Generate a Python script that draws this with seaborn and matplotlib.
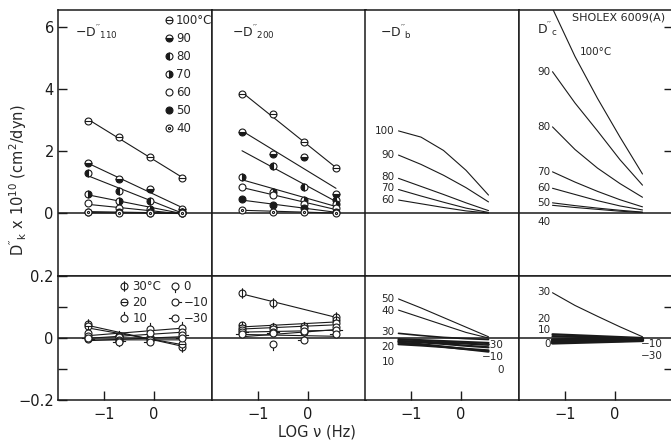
import numpy as np
import pandas as pd
import matplotlib
matplotlib.use("Agg")
import matplotlib.pyplot as plt
import seaborn as sns
from matplotlib.path import Path
from matplotlib.lines import Line2D

sns.set_theme(style="white")
plt.rcParams["font.family"] = ["DejaVu Sans"]
plt.rcParams["mathtext.default"] = "regular"

# ---------------- data ----------------
log_freq = [-1.32, -0.70, -0.08, 0.56]          # measured frequencies (log Hz)
curve_x = [-1.25, -0.80, -0.35, 0.10, 0.55]     # abscissae

temps_hi = [100, 90, 80, 70, 60, 50, 40]
temps_lo = [30, 20, 10, 0, -10, -30]

d110_hi = [
    [2.98, 2.46, 1.82, 1.12],
    [1.60, 1.09, 0.78, 0.12],
    [1.28, 0.70, 0.39, 0.05],
    [0.60, 0.40, 0.13, 0.02],
    [0.31, 0.15, 0.05, 0.00],
    [0.05, 0.03, 0.01, 0.00],
    [0.02, 0.00, -0.01, -0.01],
]
d200_hi = [
    [3.84, 3.18, 2.29, 1.44],
    [2.62, 1.90, 1.80, 0.60],
    [np.nan, 1.52, 0.83, 0.42],
    [1.17, 0.69, 0.42, 0.30],
    [0.85, 0.58, 0.30, 0.15],
    [0.44, 0.26, 0.15, 0.04],
    [0.10, 0.04, 0.04, 0.00],
]
d110_lo = [
    [0.045, 0.008, 0.004, -0.028],
    [0.038, 0.005, 0.000, -0.020],
    [0.015, 0.002, 0.028, 0.033],
    [0.005, -0.005, 0.015, 0.020],
    [-0.003, -0.010, -0.006, 0.010],
    [0.000, -0.012, -0.012, 0.000],
]
d200_lo = [
    [0.145, 0.113, np.nan, 0.068],
    [0.042, 0.035, 0.040, 0.058],
    [0.033, 0.030, 0.033, 0.047],
    [0.025, -0.020, 0.020, 0.037],
    [0.020, 0.020, 0.022, 0.026],
    [0.012, 0.015, -0.005, 0.012],
]

db_hi_temps = [100, 90, 80, 70, 60]
db_hi = [
    [2.65, 2.45, 2.02, 1.38, 0.58],
    [1.87, 1.57, 1.22, 0.82, 0.36],
    [1.12, 0.86, 0.60, 0.33, 0.08],
    [0.76, 0.55, 0.35, 0.16, 0.02],
    [0.42, 0.30, 0.18, 0.07, 0.00],
]
db_lo_temps = [50, 40, 30, 20, 10, 0, -10, -30]
db_lo = [
    [0.126, 0.097, 0.066, 0.035, 0.004],
    [0.090, 0.066, 0.042, 0.018, 0.000],
    [0.015, 0.008, 0.002, -0.002, -0.005],
    [-0.010, -0.012, -0.015, -0.018, -0.022],
    [-0.020, -0.024, -0.029, -0.035, -0.040],
    [-0.015, -0.020, -0.028, -0.036, -0.044],
    [-0.010, -0.014, -0.019, -0.025, -0.030],
    [-0.004, -0.007, -0.010, -0.013, -0.016],
]
dc_hi_temps = [100, 90, 80, 70, 60, 50, 40]
dc_hi = [
    [6.60, 5.05, 3.70, 2.45, 1.26],
    [4.56, 3.55, 2.65, 1.72, 0.90],
    [2.78, 2.05, 1.45, 0.95, 0.51],
    [1.33, 1.00, 0.70, 0.43, 0.20],
    [0.80, 0.60, 0.40, 0.23, 0.10],
    [0.33, 0.24, 0.16, 0.09, 0.03],
    [0.25, 0.18, 0.12, 0.06, 0.02],
]
dc_lo_temps = [30, 20, 10, 0, -10, -30]
dc_lo = [
    [0.146, 0.105, 0.070, 0.036, 0.004],
    [0.012, 0.009, 0.006, 0.003, 0.000],
    [0.006, 0.004, 0.002, 0.000, -0.002],
    [-0.016, -0.014, -0.012, -0.010, -0.008],
    [-0.011, -0.010, -0.009, -0.008, -0.006],
    [-0.006, -0.005, -0.005, -0.004, -0.003],
]

# ---------------- marker styles ----------------
circ = Path.unit_circle()


def comp(*segs):
    return Path.make_compound_path(circ, *[Path(s) for s in segs])


M_OMINUS = comp([(-1, 0), (1, 0)])
M_ODOT = Path.make_compound_path(circ, Path.circle((0, 0), 0.3))
M_PHI = comp([(0, -1.5), (0, 1.5)])
M_PINUP = comp([(0, 1), (0, 1.9)])
M_PINDN = comp([(0, -1), (0, -1.9)])
M_TICKR = comp([(1, 0), (1.9, 0)])
M_TICKL = comp([(-1, 0), (-1.9, 0)])

base = dict(mec="k", mew=0.8, ls="none")
mk = {
    100: dict(marker=M_OMINUS, ms=5, mfc="w"),
    90: dict(marker="o", ms=5, mfc="k", fillstyle="bottom", markerfacecoloralt="w"),
    80: dict(marker="o", ms=5, mfc="k", fillstyle="left", markerfacecoloralt="w"),
    70: dict(marker="o", ms=5, mfc="k", fillstyle="right", markerfacecoloralt="w"),
    60: dict(marker="o", ms=5, mfc="w"),
    50: dict(marker="o", ms=5, mfc="k"),
    40: dict(marker=M_ODOT, ms=5, mfc="w"),
    30: dict(marker=M_PHI, ms=7.5, mfc="w"),
    20: dict(marker=M_OMINUS, ms=5, mfc="w"),
    10: dict(marker=M_PINUP, ms=9.5, mfc="w"),
    0: dict(marker=M_PINDN, ms=9.5, mfc="w"),
    -10: dict(marker=M_TICKR, ms=9.5, mfc="w"),
    -30: dict(marker=M_TICKL, ms=9.5, mfc="w"),
}

# ---------------- layout ----------------
W, H = 671, 444
fig = plt.figure(figsize=(W / 100, H / 100), dpi=100)
lefts = [58, 212, 365, 519]
pw = 153.5


def box(l, t, b):
    return [l / W, 1 - b / H, pw / W, (b - t) / H]


XL = (-1.92, 1.15)
axs_hi = [fig.add_axes(box(l, 10, 276)) for l in lefts]
axs_lo = [fig.add_axes(box(l, 276, 400)) for l in lefts]

for ax in axs_hi + axs_lo:
    ax.set_xlim(*XL)
    for s in ax.spines.values():
        s.set_color("k")
        s.set_linewidth(1.1)
    ax.set_xticks([])
    ax.set_yticks([])
    ax.set_facecolor("white")
for ax in axs_hi:
    ax.set_ylim(-2.03, 6.55)
    ax.axhline(0, color="k", lw=1.1, zorder=1)
for ax in axs_lo:
    ax.set_ylim(-0.2, 0.2)
    ax.axhline(0, color="k", lw=1.1, zorder=1)

LW = 0.8


def fitted_series(ax, temps, rows):
    for T, vals in zip(temps, rows):
        x = np.array(log_freq)
        y = np.array(vals, dtype=float)
        ok = ~np.isnan(y)
        p = np.polyfit(x[ok], y[ok], 1)
        xf = np.array([log_freq[0], log_freq[-1]])
        df = pd.DataFrame({"x": xf, "y": np.polyval(p, xf)})
        sns.lineplot(data=df, x="x", y="y", ax=ax, color="k", lw=LW, zorder=2)
        ax.plot(x[ok], y[ok], zorder=3, **base, **mk[T])


def curves(ax, temps, rows, lw=LW, lws=None):
    recs = []
    for T, vals in zip(temps, rows):
        for xx, yy in zip(curve_x, vals):
            recs.append({"T": T, "x": xx, "y": yy})
    df = pd.DataFrame(recs)
    for i, T in enumerate(temps):
        sub = df[df["T"] == T]
        w = lws[i] if lws is not None else lw
        sns.lineplot(data=sub, x="x", y="y", ax=ax, color="k", lw=w, sort=True)


fitted_series(axs_hi[0], temps_hi, d110_hi)
fitted_series(axs_hi[1], temps_hi, d200_hi)
fitted_series(axs_lo[0], temps_lo, d110_lo)
fitted_series(axs_lo[1], temps_lo, d200_lo)
curves(axs_hi[2], db_hi_temps, db_hi)
curves(axs_lo[2], db_lo_temps, db_lo, lws=[LW, LW, 1.2, 1.6, 1.6, 1.6, 1.6, 1.6])
curves(axs_hi[3], dc_hi_temps, dc_hi)
curves(axs_lo[3], dc_lo_temps, dc_lo, lws=[LW, 1.6, 1.6, 2.4, 2.4, 2.4])

for ax in axs_hi + axs_lo:
    ax.set_xlabel("")
    ax.set_ylabel("")

# ---------------- ticks ----------------
tk = dict(direction="in", length=6.5, width=1.0, colors="k", labelsize=10.5)
a = axs_hi[0]
a.set_yticks([0, 2, 4, 6])
a.set_yticklabels(["0", "2", "4", "6"])
a.tick_params(axis="y", left=True, pad=3, **tk)
a = axs_lo[0]
a.set_yticks([-0.2, -0.1, 0, 0.1, 0.2])
a.set_yticklabels(["\u22120.2", "", "0", "", "0.2"])
a.tick_params(axis="y", left=True, pad=3, **tk)
a = axs_hi[3]
a.yaxis.set_ticks_position("right")
a.set_yticks([2, 4, 6])
a.tick_params(axis="y", right=True, left=False, labelright=False, labelleft=False, **tk)
a = axs_lo[3]
a.yaxis.set_ticks_position("right")
a.set_yticks([-0.1, 0.1])
a.tick_params(axis="y", right=True, left=False, labelright=False, labelleft=False, **tk)
for a in axs_lo:
    a.set_xticks([-1, 0])
    a.set_xticklabels(["\u22121", "0"])
    a.tick_params(axis="x", bottom=True, pad=5, **tk)

# ---------------- texts ----------------
fs = 8.5
fl = 7.5
axs_hi[0].text(0.11, 0.915, r"$-D''_{110}$", transform=axs_hi[0].transAxes, fontsize=9, va="center")
axs_hi[1].text(0.13, 0.915, r"$-D''_{200}$", transform=axs_hi[1].transAxes, fontsize=9, va="center")
axs_hi[2].text(0.10, 0.915, r"$-D''_{b}$", transform=axs_hi[2].transAxes, fontsize=9, va="center")
axs_hi[3].text(0.12, 0.925, r"$D''_{c}$", transform=axs_hi[3].transAxes, fontsize=9, va="center")
axs_hi[3].text(-0.87, 6.32, "SHOLEX 6009(A)", fontsize=8, va="center", ha="left")

# legend hi
hh = [Line2D([], [], **base, **mk[T]) for T in temps_hi]
lab_hi = ["100\u00b0C"] + [str(T) for T in temps_hi[1:]]
axs_hi[0].legend(hh, lab_hi, loc="upper left", bbox_to_anchor=(0.70, 0.985), frameon=False,
                 fontsize=fs, handlelength=0.6, handletextpad=0.3, labelspacing=0.42,
                 borderaxespad=0, borderpad=0)
# legend lo
hl = [Line2D([], [], **base, **mk[T]) for T in temps_lo]
lab_lo = ["30\u00b0C", "20", "10", "0", "\u221210", "\u221230"]
axs_lo[0].legend(hl, lab_lo, loc="upper left", bbox_to_anchor=(0.40, 0.965), frameon=False,
                 fontsize=fs, ncol=2, handlelength=0.8, handletextpad=0.3, labelspacing=0.25,
                 columnspacing=0.8, borderaxespad=0, borderpad=0)

# curve labels, panel b
a = axs_hi[2]
for T, yy in zip(db_hi_temps, [2.65, 1.87, 1.15, 0.80, 0.42]):
    a.text(curve_x[0] - 0.08, yy, str(T), fontsize=fl, ha="right", va="center")
a = axs_lo[2]
for lab, yy in [("50", 0.126), ("40", 0.088), ("30", 0.020), ("20", -0.030), ("10", -0.077)]:
    a.text(curve_x[0] - 0.08, yy, lab, fontsize=fl, ha="right", va="center")
for lab, yy in [("\u221230", -0.023), ("\u221210", -0.060), ("0", -0.102)]:
    a.text(0.86, yy, lab, fontsize=fl, ha="right", va="center")

# curve labels, panel c
a = axs_hi[3]
a.text(-0.71, 5.19, "100\u00b0C", fontsize=fl, ha="left", va="center")
for lab, yy in [("90", 4.56), ("80", 2.78), ("70", 1.33), ("60", 0.80), ("50", 0.33)]:
    a.text(-1.29, yy, lab, fontsize=fl, ha="right", va="center")
a.text(-1.29, -0.30, "40", fontsize=fl, ha="right", va="center")
a = axs_lo[3]
for lab, yy in [("30", 0.148), ("20", 0.062), ("10", 0.026), ("0", -0.020)]:
    a.text(-1.29, yy, lab, fontsize=fl, ha="right", va="center")
for lab, yy in [("\u221210", -0.020), ("\u221230", -0.058)]:
    a.text(0.52, yy, lab, fontsize=fl, ha="left", va="center")

fig.text(18 / W, 1 - 180 / H, r"$D''_k$ x $10^{10}$ (cm$^2$/dyn)", rotation=90,
         ha="center", va="center", fontsize=10.5)
fig.text(317 / W, 1 - 432 / H, "LOG \u03bd (Hz)", ha="center", va="center", fontsize=10.5)

fig.savefig("out.png", dpi=100, facecolor="white")
